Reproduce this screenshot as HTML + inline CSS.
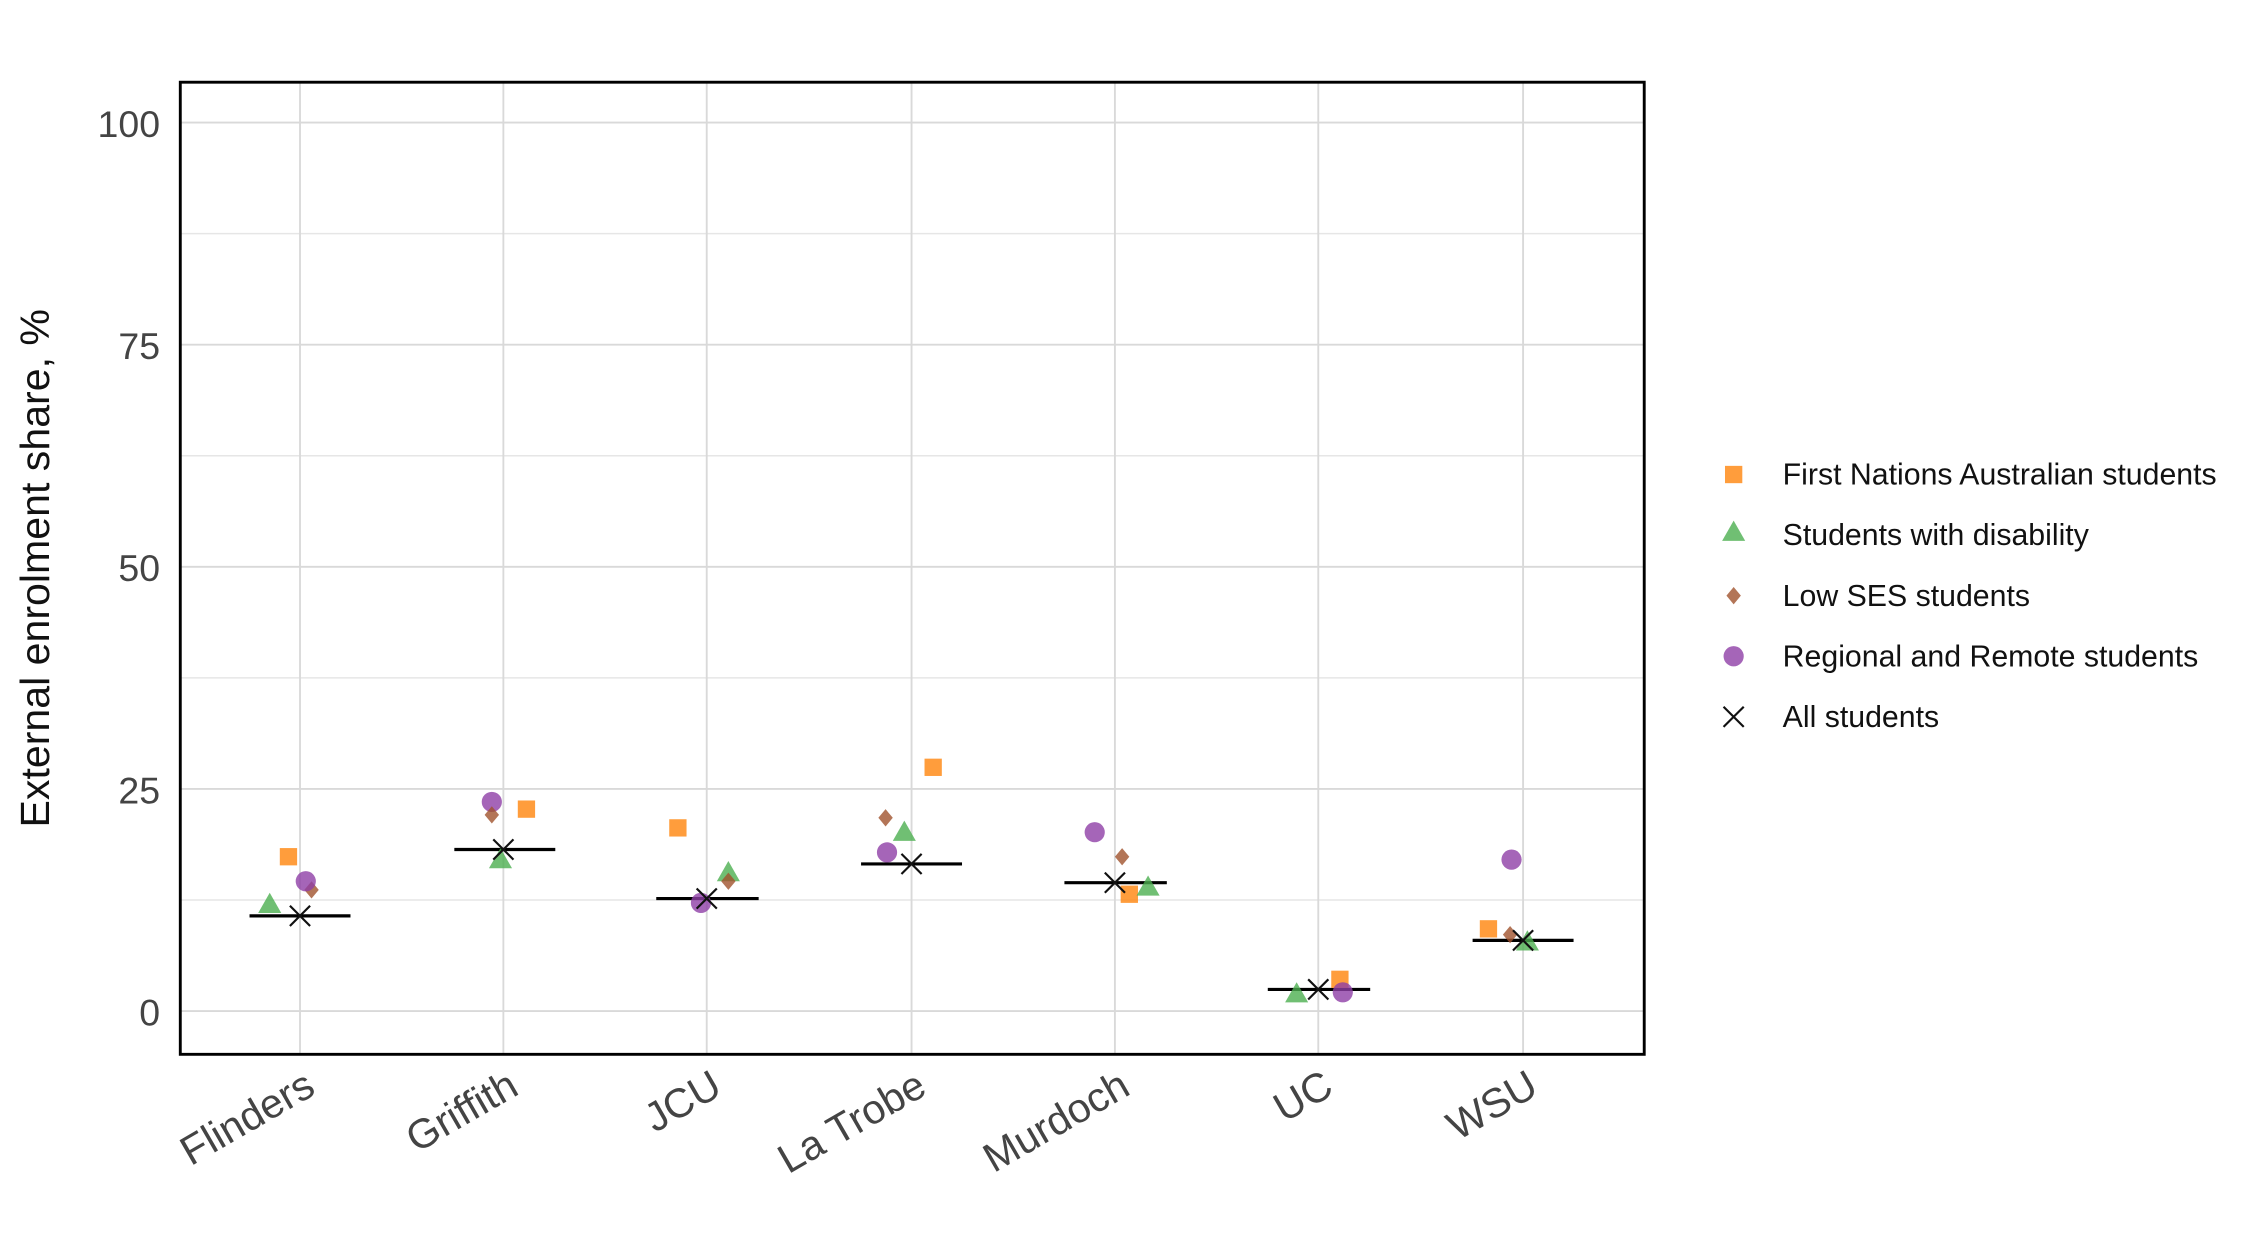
<!DOCTYPE html>
<html><head><meta charset="utf-8"><style>
html,body{margin:0;padding:0;background:#fff;}
svg{display:block;}
text{font-family:"Liberation Sans",Arial,sans-serif;}
</style></head><body>
<svg width="2250" height="1250" viewBox="0 0 1560 866.67" xmlns="http://www.w3.org/2000/svg">
<defs>
<g id="sq"><rect x="-6" y="-6" width="12" height="12" fill="#ff8c1a" fill-opacity="0.85"/></g>
<g id="tr"><polygon points="0,-8 8,6 -8,6" fill="#4caf50" fill-opacity="0.8"/></g>
<g id="di"><polygon points="0,-6 5,0 0,6 -5,0" fill="#a0522d" fill-opacity="0.8"/></g>
<g id="ci"><circle r="7" fill="#8e3fa6" fill-opacity="0.8"/></g>
<g id="xx"><path d="M-7,-7L7,7M-7,7L7,-7" stroke="#111" stroke-width="1.5" fill="none"/></g>
</defs>
<g stroke="#e6e6e6" stroke-width="1">
<line x1="125" x2="1140" y1="162" y2="162"/><line x1="125" x2="1140" y1="316" y2="316"/>
<line x1="125" x2="1140" y1="470" y2="470"/><line x1="125" x2="1140" y1="624" y2="624"/>
</g>
<g stroke="#d9d9d9" stroke-width="1.3">
<line x1="125" x2="1140" y1="85" y2="85"/><line x1="125" x2="1140" y1="239" y2="239"/>
<line x1="125" x2="1140" y1="393" y2="393"/><line x1="125" x2="1140" y1="547" y2="547"/>
<line x1="125" x2="1140" y1="701" y2="701"/>
<line x1="208" x2="208" y1="57" y2="731"/><line x1="349" x2="349" y1="57" y2="731"/>
<line x1="490" x2="490" y1="57" y2="731"/><line x1="632" x2="632" y1="57" y2="731"/>
<line x1="773" x2="773" y1="57" y2="731"/><line x1="914" x2="914" y1="57" y2="731"/>
<line x1="1056" x2="1056" y1="57" y2="731"/>
</g>
<rect x="125" y="57" width="1015" height="674" fill="none" stroke="#000" stroke-width="2"/>
<g font-size="26" fill="#444" text-anchor="end">
<text x="111" y="95">100</text><text x="111" y="249">75</text><text x="111" y="403">50</text>
<text x="111" y="557">25</text><text x="111" y="711">0</text>
</g>
<text transform="translate(34,394) rotate(-90)" font-size="28.5" fill="#111" text-anchor="middle">External enrolment share, %</text>
<g font-size="28.5" fill="#444" text-anchor="end">
<text transform="translate(220,758) rotate(-30)">Flinders</text>
<text transform="translate(361,758) rotate(-30)">Griffith</text>
<text transform="translate(502,758) rotate(-30)">JCU</text>
<text transform="translate(644,758) rotate(-30)">La Trobe</text>
<text transform="translate(785,758) rotate(-30)">Murdoch</text>
<text transform="translate(926,758) rotate(-30)">UC</text>
<text transform="translate(1068,758) rotate(-30)">WSU</text>
</g>
<g stroke="#000" stroke-width="2.2">
<line x1="173" x2="243" y1="635" y2="635"/><line x1="315" x2="385" y1="589" y2="589"/>
<line x1="455" x2="526" y1="623" y2="623"/><line x1="597" x2="667" y1="599" y2="599"/>
<line x1="738" x2="809" y1="612" y2="612"/><line x1="879" x2="950" y1="686" y2="686"/>
<line x1="1021" x2="1091" y1="652" y2="652"/>
</g>
<use href="#sq" x="200" y="594"/><use href="#tr" x="187" y="627"/><use href="#di" x="216" y="617"/><use href="#ci" x="212" y="611"/><use href="#xx" x="208" y="635"/>
<use href="#ci" x="341" y="556"/><use href="#di" x="341" y="565"/><use href="#sq" x="365" y="561"/><use href="#tr" x="347" y="596"/><use href="#xx" x="349" y="589"/>
<use href="#sq" x="470" y="574"/><use href="#tr" x="505" y="605"/><use href="#di" x="505" y="611"/><use href="#ci" x="486" y="626"/><use href="#xx" x="490" y="623"/>
<use href="#sq" x="647" y="532"/><use href="#di" x="614" y="567"/><use href="#tr" x="627" y="577"/><use href="#ci" x="615" y="591"/><use href="#xx" x="632" y="599"/>
<use href="#ci" x="759" y="577"/><use href="#di" x="778" y="594"/><use href="#sq" x="783" y="620"/><use href="#tr" x="796" y="615"/><use href="#xx" x="773" y="612"/>
<use href="#tr" x="899" y="689"/><use href="#sq" x="929" y="679"/><use href="#ci" x="931" y="688"/><use href="#xx" x="914" y="686"/>
<use href="#ci" x="1048" y="596"/><use href="#sq" x="1032" y="644"/><use href="#di" x="1047" y="648"/><use href="#tr" x="1059" y="653"/><use href="#xx" x="1056" y="652"/>
<use href="#sq" x="1202" y="329"/><use href="#tr" x="1202" y="369"/><use href="#di" x="1202" y="413"/><use href="#ci" x="1202" y="455"/><use href="#xx" x="1202" y="497"/>
<g font-size="21" fill="#111">
<text x="1236" y="336">First Nations Australian students</text>
<text x="1236" y="378">Students with disability</text>
<text x="1236" y="420">Low SES students</text>
<text x="1236" y="462">Regional and Remote students</text>
<text x="1236" y="504">All students</text>
</g>
</svg>
</body></html>
